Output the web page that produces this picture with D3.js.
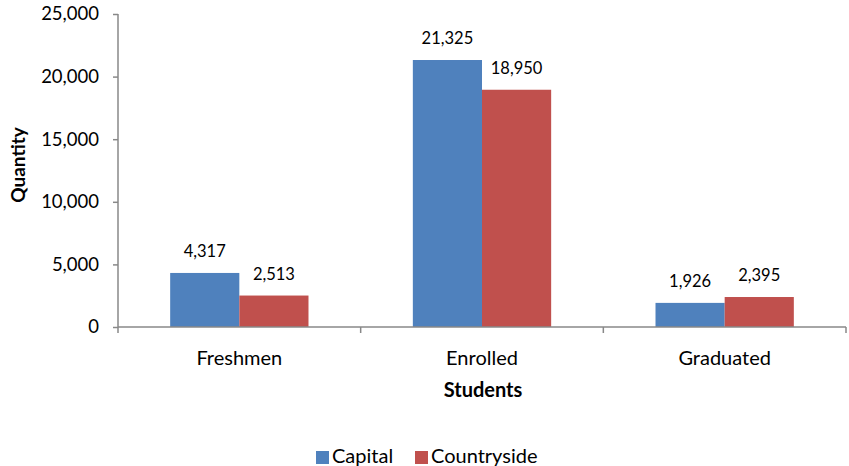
<!DOCTYPE html>
<html><head><meta charset="utf-8">
<script src="https://cdn.jsdelivr.net/npm/d3@7"></script>
<style>body{margin:0;background:#fff;} text{font-family:Lato,"Open Sans",sans-serif;}</style>
</head><body>
<svg id="c" width="849" height="466"></svg>
<script>
const categories = ["Freshmen","Enrolled","Graduated"];
const seriesNames = ["Capital","Countryside"];
const capital = [4317, 21325, 1926];
const countryside = [2513, 18950, 2395];
const yTicks = [0,5000,10000,15000,20000,25000];
const colors = ["#4F81BD","#C0504D"];

(function(){
const svg = d3.select("#c");
const mLeft = 118, mRight = 846, mTop = 14, mBottom = 327;
const x = d3.scaleBand().domain(categories).range([mLeft, mRight]);
const y = d3.scaleLinear().domain([0,25000]).range([mBottom, mTop]);
const fmt = d3.format(",");
const barW = x.bandwidth()*0.285;
const inner = d3.scaleBand().domain(seriesNames).range([-barW, barW]);
const series = [capital, countryside];

series.forEach((vals, si) => {
  svg.append("g").selectAll("rect").data(vals).join("rect")
    .attr("x", (d,i) => x(categories[i]) + x.bandwidth()/2 + inner(seriesNames[si]))
    .attr("width", inner.bandwidth())
    .attr("y", d => y(d))
    .attr("height", d => y(0) - y(d))
    .attr("fill", colors[si]);
  svg.append("g").selectAll("text").data(vals).join("text")
    .attr("x", (d,i) => x(categories[i]) + x.bandwidth()/2 + inner(seriesNames[si]) + inner.bandwidth()/2)
    .attr("y", d => y(d) - 16)
    .attr("text-anchor","middle")
    .attr("font-size", 16.5)
    .attr("fill","#000")
    .text(d => fmt(d));
});

const yAxis = d3.axisLeft(y).tickValues(yTicks).tickFormat(fmt).tickSize(5).tickPadding(14);
const gy = svg.append("g").attr("transform", `translate(${mLeft},0)`).call(yAxis);
gy.selectAll("text").attr("font-size", 18.5).attr("fill","#000").style("font-family","Lato");
gy.selectAll("line,path").attr("stroke","#888").attr("stroke-width",1.5);
gy.select(".domain").attr("d", `M0,${mTop}V${mBottom}`);

const xAxis = d3.axisBottom(x).tickSize(6).tickPadding(18);
const gx = svg.append("g").attr("transform", `translate(0,${mBottom})`).call(xAxis);
gx.selectAll(".tick line").remove();
gx.selectAll("text").attr("font-size", 20).attr("fill","#000").style("font-family","Lato");
gx.select(".domain").attr("stroke","#888").attr("stroke-width",1.5).attr("d", `M${mLeft},0H${mRight}`);
const bounds = [mLeft, ...categories.map(c => x(c) + x.bandwidth())];
gx.selectAll(".bt").data(bounds).join("line").attr("x1", d=>d).attr("x2", d=>d).attr("y1",0).attr("y2",6)
  .attr("stroke","#888").attr("stroke-width",1.5);

svg.append("text").attr("transform","translate(25,165) rotate(-90)").attr("text-anchor","middle")
  .attr("font-size",19).attr("font-weight","bold").text("Quantity");
svg.append("text").attr("x",483).attr("y",397).attr("text-anchor","middle")
  .attr("font-size",20).attr("font-weight","bold").text("Students");

const leg = svg.append("g");
const legX = [316, 415];
seriesNames.forEach((n,i) => {
  leg.append("rect").attr("x",legX[i]).attr("y",451).attr("width",13).attr("height",13).attr("fill",colors[i]);
  leg.append("text").attr("x",legX[i]+16).attr("y",463).attr("font-size",20).text(n);
});
})();
</script>
</body></html>
